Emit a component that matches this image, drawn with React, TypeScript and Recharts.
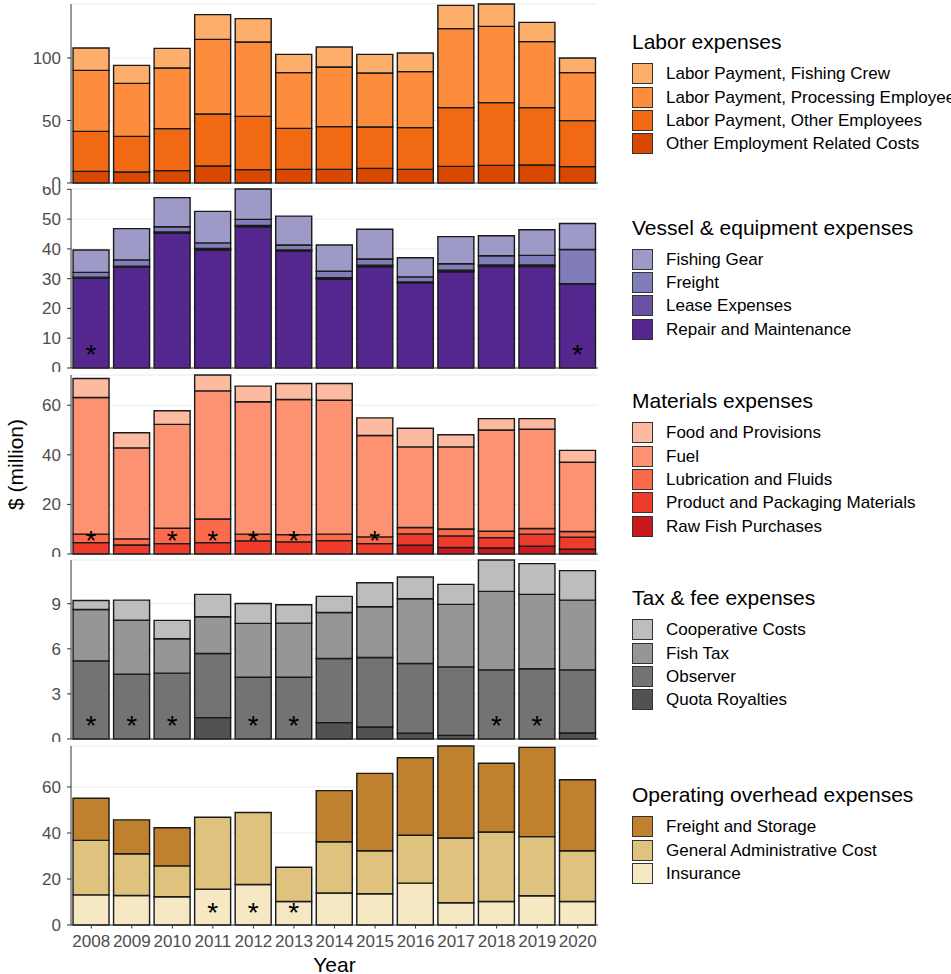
import React from 'react';
import { BarChart, Bar, XAxis, YAxis, CartesianGrid, Legend, LabelList } from 'recharts';

// ---------------- DATA ----------------
const years = ['2008', '2009', '2010', '2011', '2012', '2013', '2014', '2015', '2016', '2017', '2018', '2019', '2020'];

// Labor expenses ($ million)
const laborFishingCrew = [17.9, 14.4, 15.7, 19.8, 18.7, 14.6, 16.0, 14.9, 14.9, 18.6, 17.9, 15.4, 11.7];
const laborProcessing = [48.8, 42.4, 48.5, 59.7, 59.5, 44.6, 47.7, 43.2, 44.8, 63.2, 61.0, 52.8, 38.4];
const laborOtherEmployees = [32.0, 28.5, 33.6, 41.6, 42.6, 32.8, 34.2, 33.1, 33.4, 47.0, 50.2, 45.9, 36.8];
const laborOtherCosts = [9.3, 8.8, 9.9, 13.6, 10.7, 10.9, 10.9, 11.7, 10.9, 13.3, 14.1, 14.4, 13.1];
const laborTicks = [0, 50, 100];
const laborStars = ['', '', '', '', '', '', '', '', '', '', '', '', ''];

// Vessel & equipment expenses
const vesselFishingGear = [7.5, 10.5, 9.8, 10.6, 10.2, 9.7, 8.8, 10.0, 6.4, 9.1, 6.7, 8.6, 8.7];
const vesselFreight = [1.6, 2.1, 1.7, 1.9, 2.0, 1.7, 2.2, 2.1, 1.7, 2.2, 3.1, 3.2, 11.5];
const vesselLease = [0.3, 0.3, 0.4, 0.5, 0.5, 0.3, 0.5, 0.5, 0.3, 0.5, 0.5, 0.5, 0];
const vesselRepair = [30.2, 33.9, 45.3, 39.6, 47.4, 39.3, 29.8, 34.0, 28.6, 32.3, 34.1, 34.1, 28.3];
const vesselTicks = [0, 10, 20, 30, 40, 50, 60];
const vesselStars = ['*', '', '', '', '', '', '', '', '', '', '', '', '*'];

// Materials expenses
const matFood = [7.7, 6.1, 5.5, 6.4, 6.3, 6.5, 6.8, 7.1, 7.5, 4.9, 4.6, 4.3, 4.8];
const matFuel = [55.1, 36.7, 41.9, 51.7, 53.4, 54.5, 54.0, 40.9, 32.5, 33.1, 40.8, 40.0, 27.9];
const matLube = [3.4, 2.5, 6.2, 9.5, 2.7, 2.9, 2.6, 2.7, 2.6, 2.8, 2.6, 2.3, 2.3];
const matPackaging = [4.6, 3.6, 4.2, 4.6, 5.3, 4.9, 5.4, 4.2, 4.6, 4.7, 4.2, 4.9, 4.9];
const matRawFish = [0, 0, 0, 0, 0, 0, 0, 0, 3.5, 2.6, 2.4, 3.1, 1.9];
const matTicks = [0, 20, 40, 60];
const matStars = ['*', '', '*', '*', '*', '*', '', '*', '', '', '', '', ''];

// Tax & fee expenses
const taxCoop = [0.6, 1.33, 1.22, 1.49, 1.33, 1.22, 1.07, 1.6, 1.45, 1.33, 2.09, 2.05, 1.96];
const taxFish = [3.42, 3.6, 2.29, 2.44, 3.58, 3.6, 3.06, 3.38, 4.31, 4.16, 5.22, 4.95, 4.64];
const taxObserver = [5.2, 4.31, 4.38, 4.27, 4.11, 4.11, 4.27, 4.62, 4.64, 4.56, 4.6, 4.67, 4.2];
const taxQuota = [0, 0, 0, 1.42, 0, 0, 1.09, 0.8, 0.38, 0.24, 0, 0, 0.4];
const taxTicks = [0, 3, 6, 9];
const taxStars = ['*', '*', '*', '', '*', '*', '', '', '', '', '*', '*', ''];

// Operating overhead expenses
const opFreightStorage = [18.3, 14.7, 16.6, 0, 0, 0, 22.2, 33.6, 33.7, 40.0, 29.9, 38.8, 30.8];
const opGeneralAdmin = [23.7, 18.2, 13.4, 31.2, 31.3, 14.9, 22.3, 18.7, 20.8, 28.1, 30.2, 25.7, 22.1];
const opInsurance = [13.1, 12.8, 12.3, 15.6, 17.6, 10.2, 13.9, 13.6, 18.2, 9.7, 10.2, 12.7, 10.2];
const opTicks = [0, 20, 40, 60];
const opStars = ['', '', '', '*', '*', '*', '', '', '', '', '', '', ''];

// ---------------- STYLE ----------------
const FONT = '"Liberation Sans", Arial, Helvetica, sans-serif';
const W = 951;
const PLOT_LEFT = 71;
const PLOT_RIGHT = 598;
const PANEL_H = 179;
const TOP_PAD = 3;
const SLOT = 185.4;
const FIRST_TOP = 0.9;
const BORDER = '#333333';
const TICK_COLOR = '#4D4D4D';

type Series = { key: string; name: string; color: string; values: number[] };
type Panel = { title: string; ticks: number[]; stars: string[]; series: Series[] };

// series listed top -> bottom (legend order)
const panels: Panel[] = [
  {
    title: 'Labor expenses', ticks: laborTicks, stars: laborStars,
    series: [
      { key: 'a', name: 'Labor Payment, Fishing Crew', color: '#FDAE6B', values: laborFishingCrew },
      { key: 'b', name: 'Labor Payment, Processing Employees', color: '#FD8D3C', values: laborProcessing },
      { key: 'c', name: 'Labor Payment, Other Employees', color: '#F16913', values: laborOtherEmployees },
      { key: 'd', name: 'Other Employment Related Costs', color: '#D94801', values: laborOtherCosts },
    ],
  },
  {
    title: 'Vessel & equipment expenses', ticks: vesselTicks, stars: vesselStars,
    series: [
      { key: 'a', name: 'Fishing Gear', color: '#9E9AC8', values: vesselFishingGear },
      { key: 'b', name: 'Freight', color: '#807DBA', values: vesselFreight },
      { key: 'c', name: 'Lease Expenses', color: '#6A51A3', values: vesselLease },
      { key: 'd', name: 'Repair and Maintenance', color: '#54278F', values: vesselRepair },
    ],
  },
  {
    title: 'Materials expenses', ticks: matTicks, stars: matStars,
    series: [
      { key: 'a', name: 'Food and Provisions', color: '#FCBBA1', values: matFood },
      { key: 'b', name: 'Fuel', color: '#FC9272', values: matFuel },
      { key: 'c', name: 'Lubrication and Fluids', color: '#FB6A4A', values: matLube },
      { key: 'd', name: 'Product and Packaging Materials', color: '#EF3B2C', values: matPackaging },
      { key: 'e', name: 'Raw Fish Purchases', color: '#CB181D', values: matRawFish },
    ],
  },
  {
    title: 'Tax & fee expenses', ticks: taxTicks, stars: taxStars,
    series: [
      { key: 'a', name: 'Cooperative Costs', color: '#BDBDBD', values: taxCoop },
      { key: 'b', name: 'Fish Tax', color: '#969696', values: taxFish },
      { key: 'c', name: 'Observer', color: '#737373', values: taxObserver },
      { key: 'd', name: 'Quota Royalties', color: '#525252', values: taxQuota },
    ],
  },
  {
    title: 'Operating overhead expenses', ticks: opTicks, stars: opStars,
    series: [
      { key: 'a', name: 'Freight and Storage', color: '#BF812D', values: opFreightStorage },
      { key: 'b', name: 'General Administrative Cost', color: '#DFC27D', values: opGeneralAdmin },
      { key: 'c', name: 'Insurance', color: '#F6E8C3', values: opInsurance },
    ],
  },
];

// star drawn at the bottom of the lowest non-empty segment of a bar
const StarLabel = (props: any) => {
  const { x, y, width, height, value } = props;
  if (!value) return null;
  const bottom = Number(y) + Number(height);
  return (
    <text x={Number(x) + Number(width) / 2} y={bottom - 3.5} textAnchor="middle" fontSize={28} fontFamily={FONT} fill="#000">
      {value}
    </text>
  );
};

const LegendBlock = ({ title, items }: { title: string; items: Series[] }) => (
  <div style={{ fontFamily: FONT, textAlign: 'left', whiteSpace: 'nowrap' }}>
    <div style={{ fontSize: 21, lineHeight: '24px', height: 24, color: '#000', marginBottom: 9 }}>{title}</div>
    {items.map((it) => (
      <div key={it.key} style={{ display: 'flex', alignItems: 'center', height: 21, marginBottom: 2.35 }}>
        <div style={{ width: 21, height: 21, boxSizing: 'border-box', background: it.color, border: '1.3px solid #333' }} />
        <span style={{ marginLeft: 13, fontSize: 17, lineHeight: '21px', color: '#000' }}>{it.name}</span>
      </div>
    ))}
  </div>
);

const YTitle = (props: any) => {
  const vb = props.viewBox || {};
  const cy = (vb.y ?? TOP_PAD) + (vb.height ?? PANEL_H) / 2;
  const x = 23;
  return (
    <text x={x} y={cy} transform={`rotate(-90, ${x}, ${cy})`} textAnchor="middle" fontSize={21} fontFamily={FONT} fill="#000">
      $ (million)
    </text>
  );
};

const PanelChart = ({ panel, index }: { panel: Panel; index: number }) => {
  const isLast = index === panels.length - 1;
  const top = FIRST_TOP + index * SLOT;
  const height = isLast ? 974 - top : SLOT;
  const axisH = height - TOP_PAD - PANEL_H;
  const bottomFirst = [...panel.series].reverse();
  const rows = years.map((yr, i) => {
    const r: any = { year: yr };
    panel.series.forEach((s) => { r[s.key] = s.values[i]; });
    const lowest = bottomFirst.find((s) => s.values[i] > 0);
    if (lowest && panel.stars[i]) r['star_' + lowest.key] = panel.stars[i];
    return r;
  });
  const n = panel.series.length;
  const blockH = 24 + 9 + n * 23.35;
  const legendTop = TOP_PAD + PANEL_H / 2 - blockH / 2;

  return (
    <div style={{ position: 'absolute', left: 0, top, width: W, height, overflow: 'hidden' }}>
      <BarChart
        width={W}
        height={height}
        data={rows}
        margin={{ top: TOP_PAD, right: W - PLOT_RIGHT, bottom: 0, left: 0 }}
        barCategoryGap="5%"
      >
        <CartesianGrid vertical={false} stroke="#EBEBEB" strokeWidth={1} />
        {bottomFirst.map((s) => (
          <Bar
            key={s.key}
            dataKey={s.key}
            name={s.name}
            stackId="stack"
            fill={s.color}
            stroke="#1a1a1a"
            strokeWidth={1.4}
            isAnimationActive={false}
          >
            <LabelList dataKey={'star_' + s.key} content={StarLabel} />
          </Bar>
        ))}
        <XAxis
          dataKey="year"
          type="category"
          interval={0}
          padding={{ left: 0, right: 0 }}
          height={axisH}
          tickSize={3.5}
          tickMargin={6}
          tickLine={{ stroke: BORDER }}
          axisLine={{ stroke: BORDER }}
          tick={isLast ? { fill: TICK_COLOR, fontSize: 17, fontFamily: FONT } : false}
          label={isLast ? { value: 'Year', position: 'insideBottom', offset: 2.5, fill: '#000', fontSize: 21, fontFamily: FONT } : undefined}
        />
        <XAxis xAxisId="top" orientation="top" dataKey="year" height={0} tick={false} tickLine={false} axisLine={{ stroke: BORDER }} />
        <YAxis
          type="number"
          domain={[0, 'dataMax']}
          ticks={panel.ticks}
          interval={0}
          width={PLOT_LEFT}
          tickSize={4}
          tickMargin={6}
          tickLine={{ stroke: BORDER }}
          axisLine={{ stroke: BORDER }}
          tick={{ fill: TICK_COLOR, fontSize: 17, fontFamily: FONT }}
          label={index === 2 ? { content: YTitle } : undefined}
        />
        <YAxis yAxisId="right" orientation="right" width={0} tick={false} tickLine={false} axisLine={{ stroke: BORDER }} domain={[0, 'dataMax']} />
        <Legend
          layout="vertical"
          align="center"
          verticalAlign="middle"
          wrapperStyle={{ left: 632, top: legendTop }}
          content={() => <LegendBlock title={panel.title} items={panel.series} />}
        />
      </BarChart>
    </div>
  );
};

export default function App() {
  return (
    <div style={{ position: 'absolute', left: 0, top: 0, width: W, height: 974, overflow: 'hidden', background: '#fff', fontFamily: FONT }}>
      {panels.map((p, i) => (
        <PanelChart key={p.title} panel={p} index={i} />
      ))}
    </div>
  );
}
